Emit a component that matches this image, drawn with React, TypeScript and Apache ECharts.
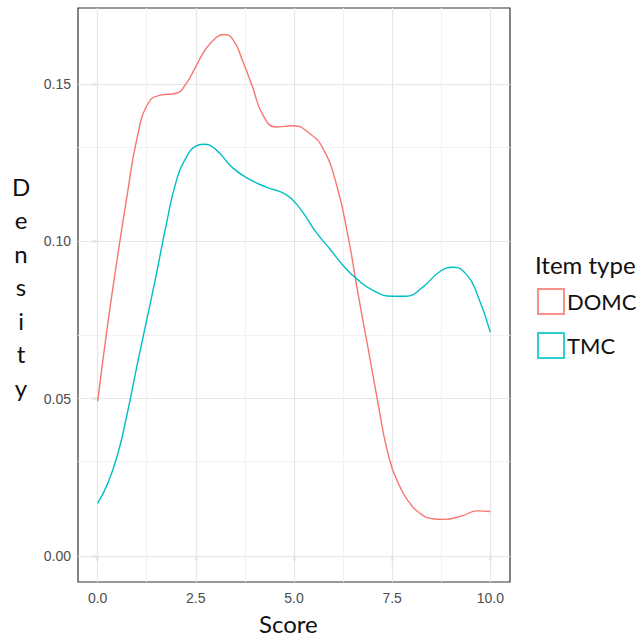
import React, { useEffect, useRef } from "react";
import * as echarts from "echarts";

// Score grid (x) and kernel density estimates
const domcX = [0, 0.25, 0.5, 0.75, 1.0, 1.29, 1.6, 2.0, 2.25, 2.5, 2.75, 3.0, 3.2, 3.45, 3.7, 3.95, 4.2, 4.54, 4.97, 5.4, 5.74, 6.08, 6.38, 6.63, 6.88, 7.14, 7.39, 7.69, 7.94, 8.19, 8.53, 8.8, 9.3, 9.66, 10];
const domcY = [0.0491, 0.073, 0.0945, 0.1145, 0.1325, 0.1439, 0.1464, 0.147, 0.150, 0.1555, 0.161, 0.1645, 0.1657, 0.164, 0.157, 0.1488, 0.1403, 0.1363, 0.1367, 0.1342, 0.1294, 0.1181, 0.1013, 0.0833, 0.0664, 0.0485, 0.0327, 0.0221, 0.0169, 0.0137, 0.0118, 0.0116, 0.0128, 0.0143, 0.0141];
const tmcX = [0, 0.25, 0.5, 0.75, 1.0, 1.25, 1.5, 1.75, 2.0, 2.25, 2.5, 2.7, 3.01, 3.44, 3.86, 4.29, 4.8, 5.14, 5.57, 5.91, 6.25, 6.59, 7.01, 7.5, 7.85, 8.28, 8.7, 9.06, 9.4, 9.66, 10];
const tmcY = [0.0167, 0.0228, 0.0318, 0.045, 0.0603, 0.075, 0.0898, 0.1055, 0.119, 0.1265, 0.1302, 0.1308, 0.1291, 0.1233, 0.1197, 0.1172, 0.1148, 0.1106, 0.1027, 0.0976, 0.0923, 0.0881, 0.0844, 0.0825, 0.0825, 0.0854, 0.0902, 0.0917, 0.0893, 0.0833, 0.0711];

const seriesNames = ["DOMC", "TMC"];
const xTicks = [0, 2.5, 5, 7.5, 10];
const xMinor = [1.25, 3.75, 6.25, 8.75];
const yTicks = [0, 0.05, 0.1, 0.15];
const yMinor = [0.025, 0.075, 0.125];

const xTitle = "Score";
const yTitle = "Density";
const legendTitle = "Item type";

const COLORS = ["#F8766D", "#00BFC4"];

export default function App() {
  const ref = useRef<HTMLDivElement>(null);
  useEffect(() => {
    if (!ref.current) return;
    const chart = echarts.init(ref.current, undefined, { renderer: "svg" });
    const zip = (xs: number[], ys: number[]) => xs.map((x, i) => [x, ys[i]]);
    const mk = (v: number, axis: "xAxis" | "yAxis", minor: boolean) => ({
      [axis]: v,
      lineStyle: { color: minor ? "#f2f2f2" : "#e6e6e6", width: minor ? 1 : 1.2, type: "solid" },
    });
    const gridLines = [
      ...xMinor.map((v) => mk(v, "xAxis", true)),
      ...yMinor.map((v) => mk(v, "yAxis", true)),
      ...xTicks.map((v) => mk(v, "xAxis", false)),
      ...yTicks.map((v) => mk(v, "yAxis", false)),
    ];
    const labelStyle = { color: "#4d4d4d", fontSize: 14, fontFamily: "Liberation Sans, Arial, sans-serif" };
    const titleFont = { fontSize: 24, fontFamily: "Lato, sans-serif", fill: "#111" };
    chart.setOption({
      animation: false,
      backgroundColor: "#ffffff",
      grid: {
        left: 78,
        top: 8,
        width: 432,
        height: 574,
        show: true,
        borderColor: "#333333",
        borderWidth: 1.2,
        backgroundColor: "transparent",
        z: 0,
      },
      xAxis: {
        type: "value",
        min: -0.5,
        max: 10.5,
        axisLine: { show: false },
        splitLine: { show: false },
        axisTick: { show: true, length: 5, lineStyle: { color: "#333", width: 1.2 }, customValues: xTicks },
        axisLabel: { ...labelStyle, margin: 9, customValues: xTicks, formatter: (v: number) => v.toFixed(1) },
      },
      yAxis: {
        type: "value",
        min: -0.0083,
        max: 0.1741,
        axisLine: { show: false },
        splitLine: { show: false },
        axisTick: { show: true, length: 5, lineStyle: { color: "#333", width: 1.2 }, customValues: yTicks },
        axisLabel: { ...labelStyle, margin: 7, customValues: yTicks, formatter: (v: number) => v.toFixed(2) },
      },
      legend: {
        orient: "vertical",
        left: 537,
        top: 288,
        padding: 0,
        itemWidth: 26,
        itemHeight: 25,
        itemGap: 17,
        icon: "rect",
        textStyle: { fontSize: 22, fontFamily: "Lato, sans-serif", color: "#111", padding: [0, 0, 0, -2] },
        data: seriesNames.map((n, i) => ({
          name: n,
          icon: "rect",
          itemStyle: { color: "#ffffff", borderColor: COLORS[i], borderWidth: 2, opacity: 0.8 },
        })),
      },
      graphic: [
        {
          type: "text",
          left: 535,
          top: 252,
          style: { text: legendTitle, ...titleFont },
        },
        {
          type: "text",
          left: 259,
          top: 611,
          style: { text: xTitle, ...titleFont },
        },
        ...yTitle.split("").map((ch, i) => ({
          type: "text",
          x: 21,
          y: 186 + i * 33.5,
          style: { text: ch, ...titleFont, align: "center", verticalAlign: "middle" },
        })),
      ],
      series: [
        {
          type: "line",
          z: 1,
          data: [],
          silent: true,
          markLine: {
            z: 1,
            silent: true,
            symbol: ["none", "none"],
            label: { show: false },
            animation: false,
            data: gridLines,
          },
        },
        ...seriesNames.map((n, i) => ({
          name: n,
          type: "line",
          z: 10,
          smooth: 0.5,
          showSymbol: false,
          data: i === 0 ? zip(domcX, domcY) : zip(tmcX, tmcY),
          lineStyle: { color: COLORS[i], width: 1.4 },
          itemStyle: { color: COLORS[i] },
        })),
      ],
    });
    return () => chart.dispose();
  }, []);
  return (
    <div
      ref={ref}
      style={{ position: "absolute", left: 0, top: 0, width: 644, height: 642 }}
    />
  );
}
